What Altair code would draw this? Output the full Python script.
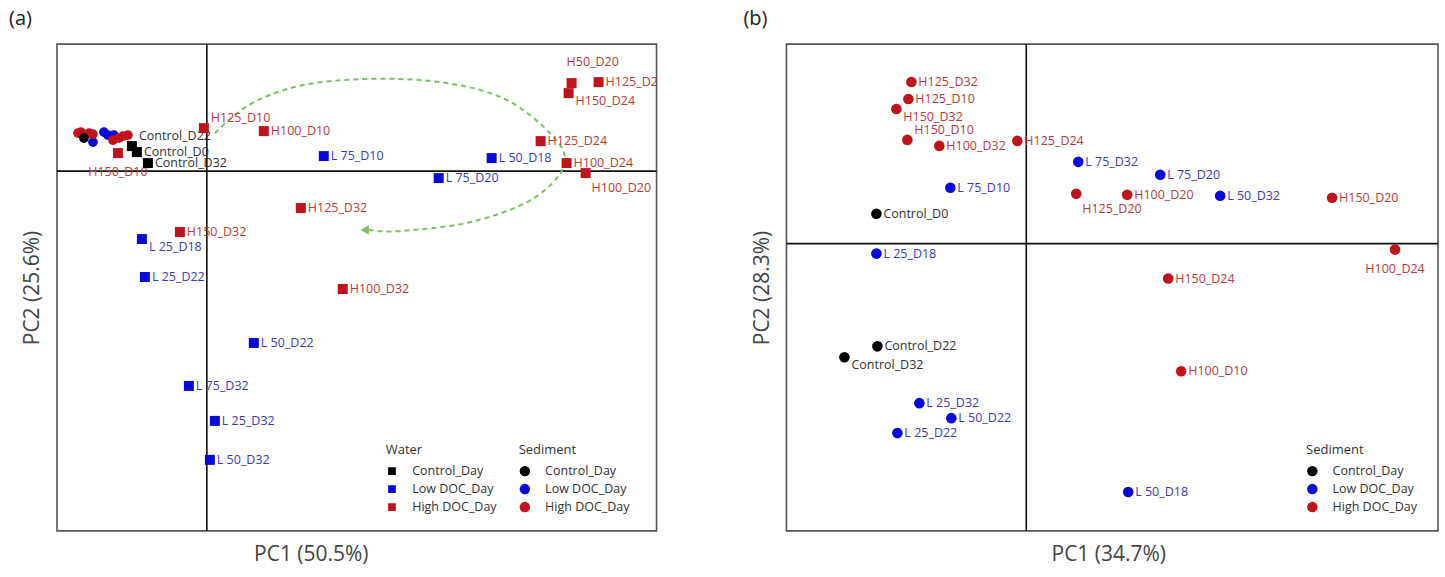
import altair as alt
import pandas as pd

FONT = "Open Sans"

# ---------------- Panel (a): water (squares) ----------------
a_water_names = ["Control_D22", "Control_D0", "Control_D32", "H150_D10", "H125_D10", "H100_D10",
                 "L 75_D10", "L 50_D18", "L 75_D20", "H50_D20", "H125_D20", "H150_D24",
                 "H125_D24", "H100_D24", "H100_D20", "H125_D32", "H150_D32", "L 25_D18",
                 "L 25_D22", "H100_D32", "L 50_D22", "L 75_D32", "L 25_D32", "L 50_D32"]
a_water_pc1 = [-0.75, -0.70, -0.59, -0.89, -0.03, 0.57, 1.17, 2.85, 2.32, 3.65, 3.92, 3.62,
               3.34, 3.60, 3.79, 0.94, -0.27, -0.65, -0.62, 1.36, 0.47, -0.18, 0.08, 0.03]
a_water_pc2 = [0.25, 0.19, 0.08, 0.18, 0.43, 0.40, 0.15, 0.13, -0.07, 0.88, 0.89, 0.78,
               0.30, 0.08, -0.02, -0.37, -0.61, -0.68, -1.06, -1.18, -1.72, -2.15, -2.50, -2.89]
a_water_labelpos = ["ur", "r", "r", "d", "ur", "r", "r", "r", "r", "u", "r", "dr",
                    "r", "r", "ddr", "r", "r", "dr", "r", "r", "r", "r", "r", "r"]

# ---------------- Panel (a): sediment (circles, unlabeled) ----------------
a_sed_group = ["High DOC_Day", "High DOC_Day", "High DOC_Day", "Control_Day", "Low DOC_Day",
               "Low DOC_Day", "Low DOC_Day", "Low DOC_Day", "High DOC_Day", "High DOC_Day",
               "High DOC_Day", "High DOC_Day", "High DOC_Day"]
a_sed_pc1 = [-1.29, -1.26, -1.18, -1.23, -1.14, -1.03, -0.99, -0.93, -1.14, -0.94, -0.88, -0.84, -0.79]
a_sed_pc2 = [0.38, 0.39, 0.38, 0.33, 0.29, 0.39, 0.36, 0.36, 0.37, 0.31, 0.33, 0.35, 0.36]

# dashed trajectory arrow in panel (a)
arc_pc1 = [0.08, 0.49, 1.14, 2.14, 2.94, 3.47, 3.57, 3.24, 2.64, 1.94, 1.62]
arc_pc2 = [0.38, 0.70, 0.89, 0.91, 0.74, 0.34, 0.04, -0.29, -0.51, -0.60, -0.59]
arrow_tip_pc1 = [1.58]
arrow_tip_pc2 = [-0.59]

# ---------------- Panel (b): sediment (circles) ----------------
b_names = ["H125_D32", "H125_D10", "H150_D32", "H150_D10", "H100_D32", "H125_D24", "L 75_D10",
           "Control_D0", "L 75_D32", "L 75_D20", "H125_D20", "H100_D20", "L 50_D32", "H150_D20",
           "H100_D24", "H150_D24", "L 25_D18", "Control_D22", "Control_D32", "H100_D10",
           "L 25_D32", "L 50_D22", "L 25_D22", "L 50_D18"]
b_pc1 = [-1.15, -1.18, -1.30, -1.19, -0.87, -0.09, -0.76, -1.50, 0.52, 1.34, 0.50, 1.01, 1.94,
         3.06, 3.69, 1.42, -1.50, -1.49, -1.82, 1.55, -1.07, -0.75, -1.29, 1.02]
b_pc2 = [1.62, 1.45, 1.35, 1.04, 0.98, 1.03, 0.56, 0.30, 0.82, 0.69, 0.50, 0.49, 0.48, 0.46,
         -0.06, -0.35, -0.10, -1.03, -1.14, -1.28, -1.60, -1.75, -1.90, -2.49]
b_labelpos = ["r", "r", "dr", "ur", "r", "r", "r", "r", "r", "r", "ddr", "r", "r", "r",
              "d", "r", "r", "r", "dr", "r", "r", "r", "r", "r"]

GROUPS = ["Control_Day", "Low DOC_Day", "High DOC_Day"]
MARK_COLORS = ["#000000", "#0a0ad8", "#c0141c"]
LABEL_COLORS = ["#333333", "#3b3bb8", "#b83a3a"]

POS = {
    "r": dict(dx=7, dy=0, align="left"),
    "ur": dict(dx=7, dy=-10, align="left"),
    "dr": dict(dx=7, dy=8, align="left"),
    "ddr": dict(dx=6, dy=15, align="left"),
    "d": dict(dx=0, dy=19, align="center"),
    "u": dict(dx=-5, dy=-21, align="left"),
}


def group_of(name):
    if name.startswith("Control"):
        return "Control_Day"
    if name.startswith("L"):
        return "Low DOC_Day"
    return "High DOC_Day"


a_water = pd.DataFrame({"name": a_water_names, "pc1": a_water_pc1, "pc2": a_water_pc2,
                        "pos": a_water_labelpos})
a_water["group"] = a_water["name"].map(group_of)
a_sed = pd.DataFrame({"group": a_sed_group, "pc1": a_sed_pc1, "pc2": a_sed_pc2})
arc = pd.DataFrame({"i": list(range(len(arc_pc1))), "pc1": arc_pc1, "pc2": arc_pc2})
tip = pd.DataFrame({"pc1": arrow_tip_pc1, "pc2": arrow_tip_pc2})
b_sed = pd.DataFrame({"name": b_names, "pc1": b_pc1, "pc2": b_pc2, "pos": b_labelpos})
b_sed["group"] = b_sed["name"].map(group_of)


def legend(title, shape, lx, ly, size):
    return alt.Legend(title=title, orient="none", legendX=lx, legendY=ly, symbolType=shape,
                      symbolSize=size, symbolStrokeWidth=0, titleFont=FONT, titleFontSize=13,
                      titleFontWeight="normal", titleColor="#333", labelFont=FONT,
                      labelFontSize=12.5, labelColor="#333", rowPadding=5, titlePadding=8,
                      labelOffset=14, padding=0)


def make_panel(xdom, ydom, w, h, xtitle, ytitle, xtitle_x, tag, tag_dx):
    xs = alt.Scale(domain=xdom, nice=False, zero=False)
    ys = alt.Scale(domain=ydom, nice=False, zero=False)
    xax = alt.Axis(title=xtitle, labels=False, ticks=False, domain=False, grid=False,
                   titleFont=FONT, titleFontSize=21, titleFontWeight="normal",
                   titleColor="#444", titlePadding=13, titleX=xtitle_x)
    yax = alt.Axis(title=ytitle, labels=False, ticks=False, domain=False, grid=False,
                   titleFont=FONT, titleFontSize=21, titleFontWeight="normal",
                   titleColor="#444", titlePadding=14)
    X = lambda f="pc1:Q": alt.X(f, scale=xs, axis=xax)
    Y = lambda f="pc2:Q": alt.Y(f, scale=ys, axis=yax)
    props = dict(width=w, height=h,
                 title=alt.TitleParams(tag, anchor="start", frame="group", dx=tag_dx, font=FONT,
                                       fontSize=20, fontWeight="normal", color="#222",
                                       offset=14))
    return X, Y, props


def zero_lines(X, Y):
    base = alt.Chart(pd.DataFrame({"z": [0]}))
    return [base.mark_rule(color="#111", strokeWidth=1.6).encode(x=X("z:Q")),
            base.mark_rule(color="#111", strokeWidth=1.6).encode(y=Y("z:Q"))]


def label_layers(df, X, Y):
    layers = []
    for key, p in POS.items():
        sub = df[df["pos"] == key]
        if len(sub) == 0:
            continue
        layers.append(
            alt.Chart(sub).mark_text(font=FONT, fontSize=12.5, baseline="middle", clip=True,
                                     **p).encode(
                x=X(), y=Y(), text="name:N",
                color=alt.Color("group:N", scale=alt.Scale(domain=GROUPS, range=LABEL_COLORS),
                                legend=None),
            )
        )
    return layers


# ---------- Panel (a) ----------
Xa, Ya, props_a = make_panel([-1.5, 4.5], [-3.6, 1.27], 600, 487,
                             "PC1 (50.5%)", "PC2 (25.6%)", 254, "(a)", -48)
arc_line = alt.Chart(arc).mark_line(color="#7dbf64", strokeWidth=2, strokeDash=[5, 4],
                                    interpolate="cardinal").encode(x=Xa(), y=Ya(), order="i:Q")
arc_tip = alt.Chart(tip).mark_point(shape="triangle-left", filled=True, size=90,
                                    color="#7dbf64", opacity=1).encode(x=Xa(), y=Ya())
water_pts = alt.Chart(a_water).mark_square(size=100, opacity=1).encode(
    x=Xa(), y=Ya(),
    color=alt.Color("group:N", scale=alt.Scale(domain=GROUPS, range=MARK_COLORS),
                    legend=legend("Water", "square", 329, 400, 60)))
sed_pts_a = alt.Chart(a_sed).mark_circle(size=95, opacity=1).encode(
    x=Xa(), y=Ya(),
    color=alt.Color("group:N", scale=alt.Scale(domain=GROUPS, range=MARK_COLORS),
                    legend=legend("Sediment", "circle", 462, 400, 110)))

panel_a = alt.layer(*zero_lines(Xa, Ya), arc_line, arc_tip, *label_layers(a_water, Xa, Ya),
                    water_pts, sed_pts_a).resolve_scale(color="independent").properties(**props_a)

# ---------- Panel (b) ----------
Xb, Yb, props_b = make_panel([-2.4, 4.12], [-2.88, 2.0], 652, 487,
                             "PC1 (34.7%)", "PC2 (28.3%)", 322, "(b)", -43)
sed_pts_b = alt.Chart(b_sed).mark_circle(size=113, opacity=1).encode(
    x=Xb(), y=Yb(),
    color=alt.Color("group:N", scale=alt.Scale(domain=GROUPS, range=MARK_COLORS),
                    legend=legend("Sediment", "circle", 520, 400, 110)))

panel_b = alt.layer(*zero_lines(Xb, Yb), *label_layers(b_sed, Xb, Yb),
                    sed_pts_b).resolve_scale(color="independent").properties(**props_b)

chart = alt.hconcat(panel_a, panel_b, spacing=84).properties(
    padding={"left": 8, "top": 8, "right": 5, "bottom": 5}
).configure(background="white").configure_view(stroke="#555", strokeWidth=1.6)

chart.save("out.html", embed_options={"renderer": "svg", "actions": False})
